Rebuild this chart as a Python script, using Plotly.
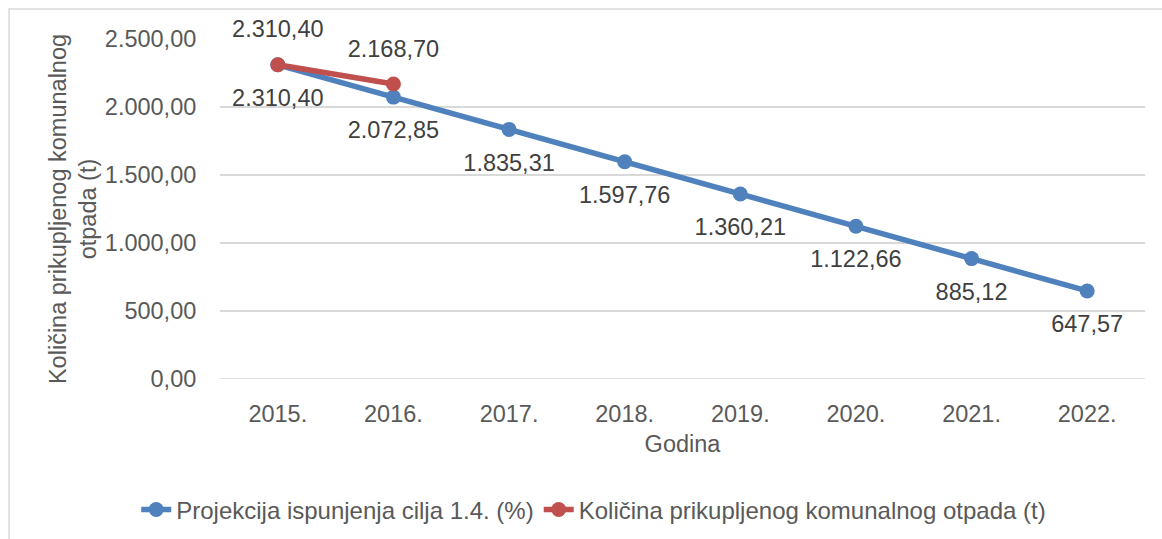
import plotly.graph_objects as go

years = ["2015.", "2016.", "2017.", "2018.", "2019.", "2020.", "2021.", "2022."]
projection = [2310.40, 2072.85, 1835.31, 1597.76, 1360.21, 1122.66, 885.12, 647.57]
actual_years = ["2015.", "2016."]
actual = [2310.40, 2168.70]

blue = "#4F81BD"
red = "#C0504D"
txt = "#595959"
lbl = "#404040"
font = "Liberation Sans, Arial, sans-serif"
fs = 23.5

fig = go.Figure()
fig.add_trace(go.Scatter(
    x=years, y=projection, mode="lines+markers",
    name="Projekcija ispunjenja cilja 1.4. (%)",
    line=dict(color=blue, width=5.5), marker=dict(color=blue, size=15),
))
fig.add_trace(go.Scatter(
    x=actual_years, y=actual, mode="lines+markers",
    name="Količina prikupljenog komunalnog otpada (t)",
    line=dict(color=red, width=5.5), marker=dict(color=red, size=15),
))
# data labels (invisible markers give the label offset)
fig.add_trace(go.Scatter(
    x=years, y=projection, mode="markers+text", showlegend=False, hoverinfo="skip",
    marker=dict(size=36, color="rgba(0,0,0,0)"),
    texttemplate="%{y:,.2f}", textposition="bottom center", cliponaxis=False,
    textfont=dict(size=fs, color=lbl, family=font),
))
fig.add_trace(go.Scatter(
    x=actual_years, y=actual, mode="markers+text", showlegend=False, hoverinfo="skip",
    marker=dict(size=33, color="rgba(0,0,0,0)"),
    texttemplate="%{y:,.2f}", textposition="top center", cliponaxis=False,
    textfont=dict(size=fs, color=lbl, family=font),
))

fig.update_layout(
    width=1162, height=539,
    margin=dict(l=220, r=17, t=39, b=160, autoexpand=False),
    paper_bgcolor="white", plot_bgcolor="white",
    separators=",.",
    font=dict(family=font, size=fs, color=txt),
    showlegend=True,
    legend=dict(orientation="h", x=0.404, xanchor="center", y=-0.385, yanchor="middle",
                font=dict(size=24, color=txt)),
    xaxis=dict(
        type="category", range=[-0.5, 7.5], automargin=False,
        showgrid=False, zeroline=False, showline=False,
        ticks="outside", ticklen=14, tickcolor="rgba(0,0,0,0)",
        tickfont=dict(size=fs, color=txt),
        title=dict(text="Godina", font=dict(size=fs, color=txt), standoff=9),
    ),
    yaxis=dict(
        range=[0, 2500], dtick=500, tickformat=",.2f", automargin=False,
        showgrid=True, gridcolor="#D9D9D9", gridwidth=1.5,
        zeroline=False, showline=False,
        ticks="outside", ticklen=18, tickcolor="rgba(0,0,0,0)",
        tickfont=dict(size=fs, color=txt),
        title=dict(text="Količina prikupljenog komunalnog<br>otpada (t)",
                   font=dict(size=fs, color=txt), standoff=1),
    ),
    shapes=[dict(type="rect", xref="paper", yref="paper",
                 x0=-0.228, y0=-0.6, x1=1.2, y1=1.088,
                 line=dict(color="#D9D9D9", width=1.5), layer="below")],
)
fig.add_shape(type="line", xref="paper", yref="y", x0=0, x1=1, y0=0, y1=0,
              line=dict(color="#D9D9D9", width=1.5), layer="below")

fig.write_html("out.html", config={"displayModeBar": False},
               post_script="document.body.style.margin='0';")
